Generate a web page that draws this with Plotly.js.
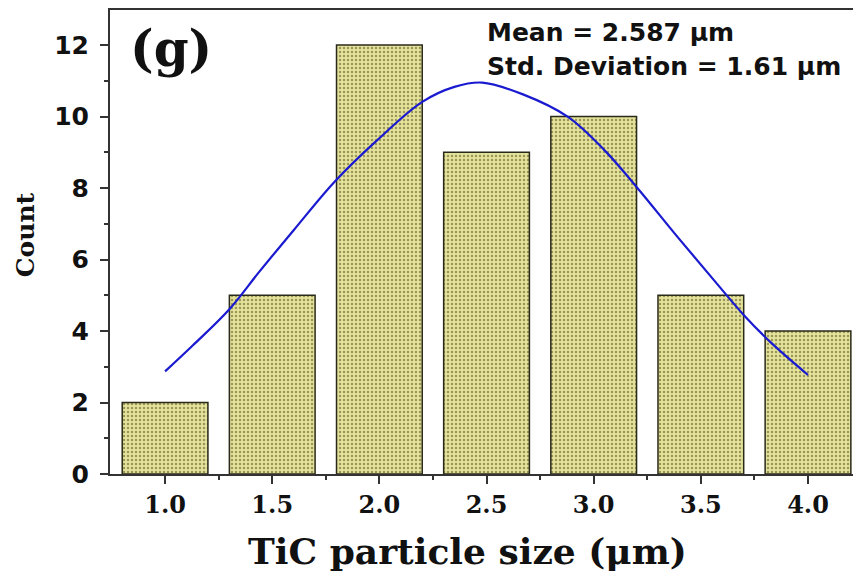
<!DOCTYPE html>
<html>
<head>
<meta charset="utf-8">
<script src="https://cdn.plot.ly/plotly-3.0.1.min.js"></script>
<style>html,body{margin:0;padding:0;background:#fff;}#chart{width:853px;height:573px;}</style>
</head>
<body>
<div id="chart"></div>
<script>
// Histogram data
const sizes = [1.0, 1.5, 2.0, 2.5, 3.0, 3.5, 4.0];
const counts = [2, 5, 12, 9, 10, 5, 4];
// Fitted curve points
const curveX = [1.00, 1.13, 1.30, 1.44, 1.60, 1.79, 1.99, 2.20, 2.35, 2.48, 2.67, 2.88, 3.05, 3.20, 3.39, 3.56, 3.70, 3.83, 4.00];
const curveY = [2.87, 3.60, 4.61, 5.66, 6.82, 8.17, 9.34, 10.41, 10.83, 10.95, 10.62, 9.99, 9.06, 8.03, 6.64, 5.43, 4.45, 3.66, 2.77];
const xTicks = [1.0, 1.5, 2.0, 2.5, 3.0, 3.5, 4.0];
const xTickText = ['1.0', '1.5', '2.0', '2.5', '3.0', '3.5', '4.0'];
const yTicks = [0, 2, 4, 6, 8, 10, 12];

const bars = {
  type: 'bar', x: sizes, y: counts, width: 0.4,
  marker: {
    color: '#e0dc90',
    line: {color: '#2a2a1a', width: 1.5},
    pattern: {shape: '.', fgcolor: '#9a975a', bgcolor: '#e6e39c', size: 4, solidity: 0.3}
  },
  hoverinfo: 'none', showlegend: false
};
const curve = {
  type: 'scatter', mode: 'lines', x: curveX, y: curveY,
  line: {color: '#1a1ad0', width: 2.2, shape: 'spline', smoothing: 1},
  hoverinfo: 'none', showlegend: false
};

const layout = {
  width: 853, height: 573,
  margin: {l: 110, r: 0, t: 10, b: 99},
  paper_bgcolor: '#fff', plot_bgcolor: '#fff',
  xaxis: {
    range: [0.743, 4.21], tickvals: xTicks, ticktext: xTickText,
    ticks: 'outside', ticklen: 8, tickwidth: 2, tickcolor: '#333',
    showline: true, linecolor: '#333', linewidth: 2, mirror: true,
    showgrid: false, zeroline: false,
    minor: {tickvals: [1.25, 1.75, 2.25, 2.75, 3.25, 3.75], ticks: 'outside', ticklen: 4, tickwidth: 2, tickcolor: '#333', showgrid: false},
    tickfont: {family: 'DejaVu Serif', size: 24, color: '#111', weight: 'bold'}
  },
  yaxis: {
    range: [0, 12.98], tickvals: yTicks,
    ticks: 'outside', ticklen: 8, tickwidth: 2, tickcolor: '#333',
    showline: true, linecolor: '#333', linewidth: 2,
    showgrid: false, zeroline: false, ticklabelstandoff: 6,
    minor: {tickvals: [1, 3, 5, 7, 9, 11], ticks: 'outside', ticklen: 4, tickwidth: 2, tickcolor: '#333', showgrid: false},
    tickfont: {family: 'DejaVu Sans', size: 25, color: '#111', weight: 'bold'}
  },
  annotations: [
    {xref: 'paper', yref: 'paper', x: 0.024, y: 0.985, xanchor: 'left', yanchor: 'top',
     text: '<b>(g)</b>', showarrow: false, font: {family: 'DejaVu Serif', size: 50, color: '#111'}},
    {xref: 'paper', yref: 'paper', x: 0.505, y: 0.986, xanchor: 'left', yanchor: 'top',
     text: '<b>Mean = 2.587 μm</b>', showarrow: false, font: {family: 'DejaVu Sans', size: 25, color: '#111'}},
    {xref: 'paper', yref: 'paper', x: 0.505, y: 0.913, xanchor: 'left', yanchor: 'top',
     text: '<b>Std. Deviation = 1.61 μm</b>', showarrow: false, font: {family: 'DejaVu Sans', size: 25, color: '#111'}},
    {xref: 'paper', yref: 'paper', x: 0.4805, y: -0.165, xanchor: 'center', yanchor: 'middle',
     text: '<b>TiC particle size (μm)</b>', showarrow: false, font: {family: 'DejaVu Serif', size: 36, color: '#111'}},
    {xref: 'paper', yref: 'paper', x: -0.114, y: 0.515, xanchor: 'center', yanchor: 'middle', textangle: -90,
     text: '<b>Count</b>', showarrow: false, font: {family: 'DejaVu Serif', size: 25, color: '#111'}}
  ]
};
Plotly.newPlot('chart', [bars, curve], layout, {displayModeBar: false, staticPlot: true});
</script>
</body>
</html>
